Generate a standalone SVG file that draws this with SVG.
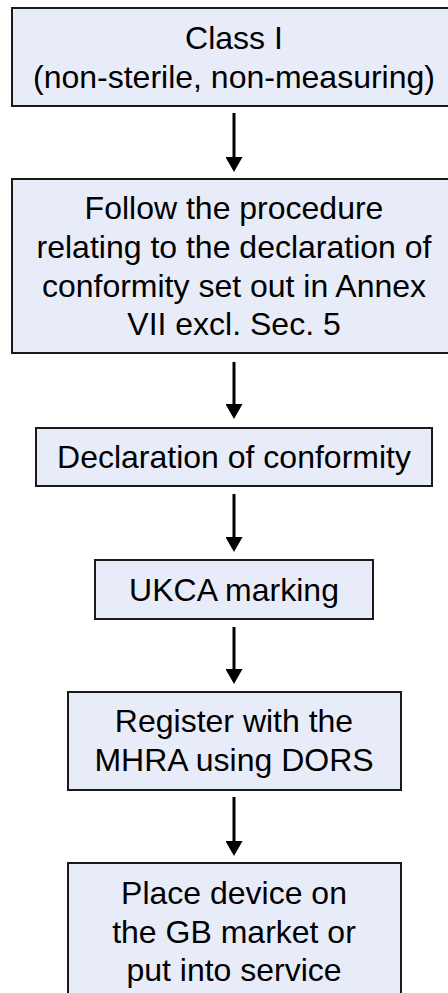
<svg xmlns="http://www.w3.org/2000/svg" width="448" height="993" viewBox="0 0 448 993">
<style>
  .box { fill: #e8ecf8; stroke: #1a1a1a; stroke-width: 2; }
  .lbl { font-family: "Liberation Sans", Arial, sans-serif; font-size: 32px; fill: #000; text-anchor: middle; }
  .conn { stroke: #000; stroke-width: 3; fill: none; marker-end: url(#arrow); }
</style>
<defs>
  <marker id="arrow" markerUnits="userSpaceOnUse" markerWidth="16" markerHeight="17" viewBox="0 0 16 17" refX="3" refY="8.5" orient="auto">
    <path d="M0,0 L15,8.5 L0,17 Z" fill="#000"/>
  </marker>
</defs>
<rect width="448" height="993" fill="#fff"/>
<g id="n1">
  <rect class="box" x="12" y="8" width="446" height="98"/>
  <text class="lbl" x="234" y="49">Class I</text>
  <text class="lbl" x="234" y="88">(non-sterile, non-measuring)</text>
</g>
<g id="n2">
  <rect class="box" x="12" y="179" width="446" height="174"/>
  <text class="lbl" x="234" y="219">Follow the procedure</text>
  <text class="lbl" x="234" y="258">relating to the declaration of</text>
  <text class="lbl" x="234" y="297">conformity set out in Annex</text>
  <text class="lbl" x="234" y="335">VII excl. Sec. 5</text>
</g>
<g id="n3">
  <rect class="box" x="36" y="428" width="396" height="58"/>
  <text class="lbl" x="234" y="468">Declaration of conformity</text>
</g>
<g id="n4">
  <rect class="box" x="95" y="560" width="278" height="59"/>
  <text class="lbl" x="234" y="601">UKCA marking</text>
</g>
<g id="n5">
  <rect class="box" x="68" y="692" width="333" height="98"/>
  <text class="lbl" x="234" y="732">Register with the</text>
  <text class="lbl" x="234" y="771">MHRA using DORS</text>
</g>
<g id="n6">
  <rect class="box" x="68" y="863" width="333" height="150"/>
  <text class="lbl" x="234" y="904">Place device on</text>
  <text class="lbl" x="234" y="943">the GB market or</text>
  <text class="lbl" x="234" y="981">put into service</text>
</g>
<g id="connectors">
  <line class="conn" x1="234" y1="113" x2="234" y2="160"/>
  <line class="conn" x1="234" y1="362" x2="234" y2="407"/>
  <line class="conn" x1="234" y1="494" x2="234" y2="540"/>
  <line class="conn" x1="234" y1="627" x2="234" y2="672"/>
  <line class="conn" x1="234" y1="797" x2="234" y2="844"/>
</g>
</svg>
